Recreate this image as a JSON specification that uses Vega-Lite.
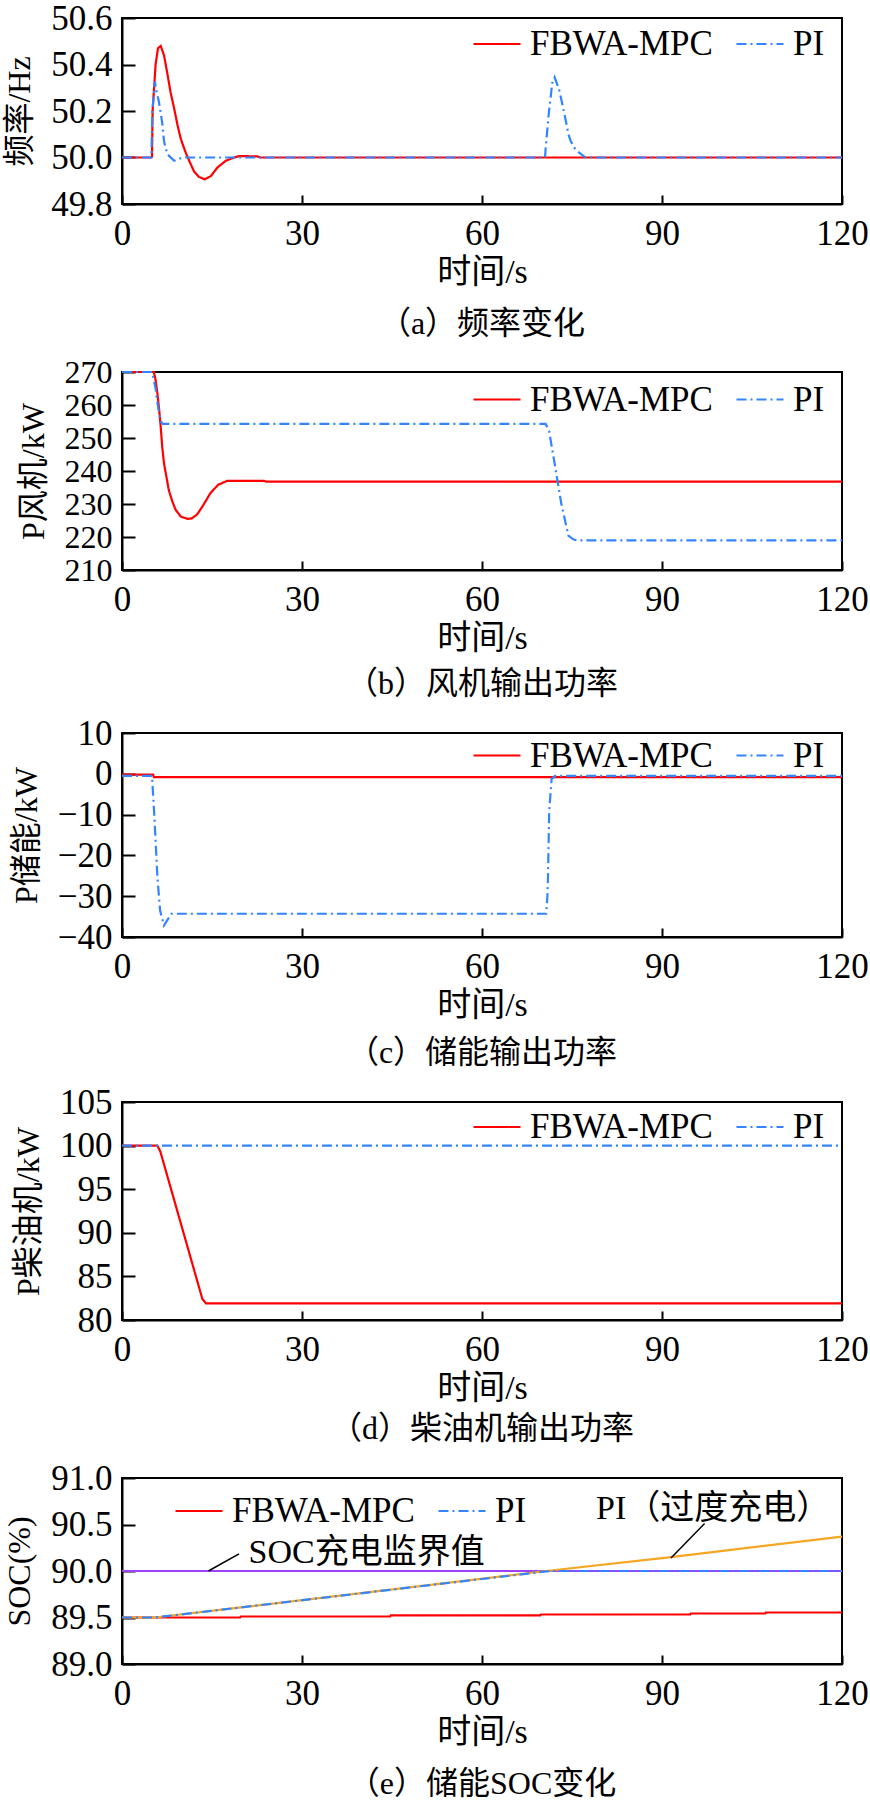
{
  "$schema": "https://vega.github.io/schema/vega-lite/v6.json",
  "padding": {"left": 2, "top": 0, "right": 0, "bottom": 0},
  "spacing": 14,
  "resolve": {
    "scale": {"color": "independent", "strokeDash": "independent"},
    "legend": {"color": "independent", "strokeDash": "independent"}
  },
  "config": {
    "font": "Liberation Serif, Noto Sans CJK SC",
    "view": {"stroke": "#000000", "strokeWidth": 2},
    "axis": {
      "grid": false,
      "domainColor": "#000000",
      "domainWidth": 2,
      "tickColor": "#000000",
      "tickWidth": 2,
      "labelFont": "Liberation Serif, Noto Sans CJK SC",
      "labelFontSize": 35,
      "labelColor": "#000000",
      "labelOverlap": false,
      "titleFont": "Liberation Serif, Noto Sans CJK SC",
      "titleFontSize": 32,
      "titleFontWeight": "normal",
      "titleColor": "#000000"
    },
    "axisX": {"tickSize": -9, "labelPadding": 21, "labelFlush": false, "titlePadding": 4, "titleFontSize": 34},
    "axisY": {"tickSize": -13, "labelPadding": 23, "titlePadding": 14},
    "legend": {
      "orient": "none",
      "direction": "horizontal",
      "symbolType": "stroke",
      "symbolSize": 2209,
      "symbolStrokeWidth": 2.5,
      "labelFont": "Liberation Serif, Noto Sans CJK SC",
      "labelFontSize": 35,
      "labelColor": "#000000",
      "labelOffset": 8,
      "labelLimit": 400,
      "columnPadding": 19,
      "padding": 0,
      "rowPadding": 0
    },
    "title": {
      "orient": "bottom",
      "offset": 14,
      "font": "Liberation Serif, Noto Sans CJK SC",
      "fontSize": 32,
      "fontWeight": "normal",
      "color": "#000000",
      "anchor": "middle"
    },
    "line": {"strokeWidth": 2.2}
  },
  "datasets": {
    "freq": [
      {"s": "FBWA-MPC", "t": 0, "v": 50.0},
      {"s": "FBWA-MPC", "t": 5.0, "v": 50.0},
      {"s": "FBWA-MPC", "t": 5.1, "v": 50.2},
      {"s": "FBWA-MPC", "t": 5.6, "v": 50.40},
      {"s": "FBWA-MPC", "t": 6.0, "v": 50.47},
      {"s": "FBWA-MPC", "t": 6.45, "v": 50.48},
      {"s": "FBWA-MPC", "t": 7.0, "v": 50.44},
      {"s": "FBWA-MPC", "t": 7.6, "v": 50.355},
      {"s": "FBWA-MPC", "t": 8.1, "v": 50.28},
      {"s": "FBWA-MPC", "t": 8.7, "v": 50.21},
      {"s": "FBWA-MPC", "t": 9.25, "v": 50.14},
      {"s": "FBWA-MPC", "t": 9.8, "v": 50.08},
      {"s": "FBWA-MPC", "t": 10.6, "v": 50.022},
      {"s": "FBWA-MPC", "t": 11.2, "v": 49.986},
      {"s": "FBWA-MPC", "t": 12.0, "v": 49.94},
      {"s": "FBWA-MPC", "t": 12.8, "v": 49.917},
      {"s": "FBWA-MPC", "t": 13.8, "v": 49.906},
      {"s": "FBWA-MPC", "t": 14.8, "v": 49.92},
      {"s": "FBWA-MPC", "t": 15.9, "v": 49.957},
      {"s": "FBWA-MPC", "t": 17.3, "v": 49.986},
      {"s": "FBWA-MPC", "t": 18.7, "v": 50.0},
      {"s": "FBWA-MPC", "t": 19.5, "v": 50.006},
      {"s": "FBWA-MPC", "t": 22.6, "v": 50.005},
      {"s": "FBWA-MPC", "t": 23.0, "v": 50.0},
      {"s": "FBWA-MPC", "t": 120, "v": 50.0},
      {"s": "PI", "t": 0, "v": 50.0},
      {"s": "PI", "t": 4.9, "v": 50.0},
      {"s": "PI", "t": 5.05, "v": 50.2},
      {"s": "PI", "t": 5.5, "v": 50.326},
      {"s": "PI", "t": 5.7, "v": 50.29},
      {"s": "PI", "t": 6.1, "v": 50.246},
      {"s": "PI", "t": 6.4, "v": 50.2},
      {"s": "PI", "t": 6.7, "v": 50.15},
      {"s": "PI", "t": 7.0, "v": 50.07},
      {"s": "PI", "t": 7.55, "v": 50.014},
      {"s": "PI", "t": 8.7, "v": 49.986},
      {"s": "PI", "t": 9.8, "v": 49.997},
      {"s": "PI", "t": 10.6, "v": 50.0},
      {"s": "PI", "t": 70.5, "v": 50.0},
      {"s": "PI", "t": 70.6, "v": 50.036},
      {"s": "PI", "t": 70.9, "v": 50.123},
      {"s": "PI", "t": 71.17, "v": 50.2},
      {"s": "PI", "t": 71.45, "v": 50.26},
      {"s": "PI", "t": 71.7, "v": 50.32},
      {"s": "PI", "t": 72.1, "v": 50.345},
      {"s": "PI", "t": 72.8, "v": 50.297},
      {"s": "PI", "t": 73.3, "v": 50.24},
      {"s": "PI", "t": 73.9, "v": 50.167},
      {"s": "PI", "t": 74.4, "v": 50.1},
      {"s": "PI", "t": 74.8, "v": 50.07},
      {"s": "PI", "t": 75.6, "v": 50.033},
      {"s": "PI", "t": 77.0, "v": 50.005},
      {"s": "PI", "t": 77.3, "v": 50.0},
      {"s": "PI", "t": 120, "v": 50.0}
    ],
    "wind": [
      {"s": "FBWA-MPC", "t": 0, "v": 270},
      {"s": "FBWA-MPC", "t": 5.3, "v": 270},
      {"s": "FBWA-MPC", "t": 5.6, "v": 267.6},
      {"s": "FBWA-MPC", "t": 5.9, "v": 263.5},
      {"s": "FBWA-MPC", "t": 6.2, "v": 258.5},
      {"s": "FBWA-MPC", "t": 6.45, "v": 253.4},
      {"s": "FBWA-MPC", "t": 6.7, "v": 247.4},
      {"s": "FBWA-MPC", "t": 7.0, "v": 242.3},
      {"s": "FBWA-MPC", "t": 7.3, "v": 239.3},
      {"s": "FBWA-MPC", "t": 7.8, "v": 234.2},
      {"s": "FBWA-MPC", "t": 8.4, "v": 230.7},
      {"s": "FBWA-MPC", "t": 8.95, "v": 228.2},
      {"s": "FBWA-MPC", "t": 9.8, "v": 226.2},
      {"s": "FBWA-MPC", "t": 10.9, "v": 225.5},
      {"s": "FBWA-MPC", "t": 11.6, "v": 225.6},
      {"s": "FBWA-MPC", "t": 12.5, "v": 226.8},
      {"s": "FBWA-MPC", "t": 13.5, "v": 229.5},
      {"s": "FBWA-MPC", "t": 14.7, "v": 233.2},
      {"s": "FBWA-MPC", "t": 16.0, "v": 235.8},
      {"s": "FBWA-MPC", "t": 17.5, "v": 237.0},
      {"s": "FBWA-MPC", "t": 23.7, "v": 237.0},
      {"s": "FBWA-MPC", "t": 24.0, "v": 236.8},
      {"s": "FBWA-MPC", "t": 120, "v": 236.8},
      {"s": "PI", "t": 0, "v": 270},
      {"s": "PI", "t": 5.0, "v": 270},
      {"s": "PI", "t": 5.3, "v": 267.6},
      {"s": "PI", "t": 5.6, "v": 265},
      {"s": "PI", "t": 5.9, "v": 260.6},
      {"s": "PI", "t": 6.2, "v": 257.5},
      {"s": "PI", "t": 6.45, "v": 255},
      {"s": "PI", "t": 6.8, "v": 254.3},
      {"s": "PI", "t": 70.6, "v": 254.3},
      {"s": "PI", "t": 71.2, "v": 252},
      {"s": "PI", "t": 72.1, "v": 242.3},
      {"s": "PI", "t": 73.2, "v": 230.3},
      {"s": "PI", "t": 74.4, "v": 220.4},
      {"s": "PI", "t": 75.2, "v": 219.3},
      {"s": "PI", "t": 75.8, "v": 219.0},
      {"s": "PI", "t": 120, "v": 219.0}
    ],
    "ess": [
      {"s": "FBWA-MPC", "t": 0, "v": -0.2},
      {"s": "FBWA-MPC", "t": 5.2, "v": -0.2},
      {"s": "FBWA-MPC", "t": 5.3, "v": -0.8},
      {"s": "FBWA-MPC", "t": 120, "v": -0.8},
      {"s": "PI", "t": 0, "v": -0.5},
      {"s": "PI", "t": 5.0, "v": -0.5},
      {"s": "PI", "t": 5.4, "v": -10.6},
      {"s": "PI", "t": 5.9, "v": -25.3},
      {"s": "PI", "t": 6.35, "v": -33.5},
      {"s": "PI", "t": 7.0, "v": -37.2},
      {"s": "PI", "t": 7.5, "v": -36.0},
      {"s": "PI", "t": 8.2, "v": -34.3},
      {"s": "PI", "t": 70.7, "v": -34.3},
      {"s": "PI", "t": 70.9, "v": -30},
      {"s": "PI", "t": 71.0, "v": -25.3},
      {"s": "PI", "t": 71.2, "v": -9.1},
      {"s": "PI", "t": 71.6, "v": -1.3},
      {"s": "PI", "t": 72.2, "v": -0.5},
      {"s": "PI", "t": 120, "v": -0.5}
    ],
    "diesel": [
      {"s": "FBWA-MPC", "t": 0, "v": 100},
      {"s": "FBWA-MPC", "t": 5.9, "v": 100},
      {"s": "FBWA-MPC", "t": 6.4, "v": 99.3},
      {"s": "FBWA-MPC", "t": 13.4, "v": 82.4},
      {"s": "FBWA-MPC", "t": 14.0, "v": 81.9},
      {"s": "FBWA-MPC", "t": 120, "v": 81.9},
      {"s": "PI", "t": 0, "v": 100},
      {"s": "PI", "t": 120, "v": 100}
    ],
    "soc": [
      {"s": "FBWA-MPC", "t": 0, "v": 89.5},
      {"s": "FBWA-MPC", "t": 19.7, "v": 89.5},
      {"s": "FBWA-MPC", "t": 19.8, "v": 89.511},
      {"s": "FBWA-MPC", "t": 44.7, "v": 89.511},
      {"s": "FBWA-MPC", "t": 44.8, "v": 89.522},
      {"s": "FBWA-MPC", "t": 69.7, "v": 89.522},
      {"s": "FBWA-MPC", "t": 69.8, "v": 89.532},
      {"s": "FBWA-MPC", "t": 94.7, "v": 89.532},
      {"s": "FBWA-MPC", "t": 94.8, "v": 89.543},
      {"s": "FBWA-MPC", "t": 107.2, "v": 89.543},
      {"s": "FBWA-MPC", "t": 107.3, "v": 89.554},
      {"s": "FBWA-MPC", "t": 120, "v": 89.554},
      {"s": "PI", "t": 0, "v": 89.5},
      {"s": "PI", "t": 5.5, "v": 89.5},
      {"s": "PI", "t": 16.6, "v": 89.584},
      {"s": "PI", "t": 71.3, "v": 90.0},
      {"s": "PI", "t": 120, "v": 90.0},
      {"s": "PI（过度充电）", "t": 0, "v": 89.5},
      {"s": "PI（过度充电）", "t": 5.5, "v": 89.5},
      {"s": "PI（过度充电）", "t": 16.6, "v": 89.584},
      {"s": "PI（过度充电）", "t": 70.7, "v": 90.0},
      {"s": "PI（过度充电）", "t": 91.5, "v": 90.15},
      {"s": "PI（过度充电）", "t": 120, "v": 90.37},
      {"s": "SOC充电监界值", "t": 0, "v": 90.0},
      {"s": "SOC充电监界值", "t": 120, "v": 90.0}
    ],
    "socNotes": [
      {"label": "SOC充电监界值", "t": 21.1, "v": 90.19, "t0": 19.5, "v0": 90.185, "t1": 14.4, "v1": 90.0},
      {"label": "PI（过度充电）", "t": 79.0, "v": 90.67, "t0": 97.1, "v0": 90.51, "t1": 91.5, "v1": 90.14}
    ]
  },
  "vconcat": [
    {
      "width": 720,
      "height": 186,
      "title": {"text": "（a）频率变化", "offset": 20},
      "data": {"name": "freq"},
      "encoding": {
        "x": {"field": "t", "type": "quantitative", "scale": {"domain": [0, 120], "nice": false}, "axis": {"title": "时间/s", "values": [0, 30, 60, 90, 120]}},
        "y": {"field": "v", "type": "quantitative", "scale": {"domain": [49.8, 50.6], "nice": false, "zero": false}, "axis": {"title": "频率/Hz", "values": [49.8, 50.0, 50.2, 50.4, 50.6], "format": ".1f"}},
        "color": {"field": "s", "type": "nominal", "scale": {"domain": ["FBWA-MPC", "PI"], "range": ["#ff0000", "#3385ff"]}, "legend": {"title": null, "legendX": 350, "legendY": 1}},
        "strokeDash": {"field": "s", "type": "nominal", "scale": {"domain": ["FBWA-MPC", "PI"], "range": [[1, 0], [10, 4, 2, 4]]}, "legend": {"title": null, "legendX": 350, "legendY": 1}}
      },
      "layer": [
        {"transform": [{"filter": "datum.s === 'FBWA-MPC'"}], "mark": "line"},
        {"transform": [{"filter": "datum.s === 'PI'"}], "mark": "line"}
      ]
    },
    {
      "width": 720,
      "height": 198,
      "title": {"text": "（b）风机输出功率", "offset": 13.5},
      "data": {"name": "wind"},
      "encoding": {
        "x": {"field": "t", "type": "quantitative", "scale": {"domain": [0, 120], "nice": false}, "axis": {"title": "时间/s", "values": [0, 30, 60, 90, 120]}},
        "y": {"field": "v", "type": "quantitative", "scale": {"domain": [210, 270], "nice": false, "zero": false}, "axis": {"title": "P风机/kW", "values": [210, 220, 230, 240, 250, 260, 270], "format": "d", "labelFontSize": 32}},
        "color": {"field": "s", "type": "nominal", "scale": {"domain": ["FBWA-MPC", "PI"], "range": ["#ff0000", "#3385ff"]}, "legend": {"title": null, "legendX": 350, "legendY": 2.5}},
        "strokeDash": {"field": "s", "type": "nominal", "scale": {"domain": ["FBWA-MPC", "PI"], "range": [[1, 0], [10, 4, 2, 4]]}, "legend": {"title": null, "legendX": 350, "legendY": 2.5}}
      },
      "layer": [
        {"transform": [{"filter": "datum.s === 'FBWA-MPC'"}], "mark": "line"},
        {"transform": [{"filter": "datum.s === 'PI'"}], "mark": "line"}
      ]
    },
    {
      "width": 720,
      "height": 204,
      "title": {"text": "（c）储能输出功率", "offset": 15.5},
      "data": {"name": "ess"},
      "encoding": {
        "x": {"field": "t", "type": "quantitative", "scale": {"domain": [0, 120], "nice": false}, "axis": {"title": "时间/s", "values": [0, 30, 60, 90, 120]}},
        "y": {"field": "v", "type": "quantitative", "scale": {"domain": [-40, 10], "nice": false, "zero": false}, "axis": {"title": "P储能/kW", "values": [-40, -30, -20, -10, 0, 10], "format": "d"}},
        "color": {"field": "s", "type": "nominal", "scale": {"domain": ["FBWA-MPC", "PI"], "range": ["#ff0000", "#3385ff"]}, "legend": {"title": null, "legendX": 350, "legendY": -2.5}},
        "strokeDash": {"field": "s", "type": "nominal", "scale": {"domain": ["FBWA-MPC", "PI"], "range": [[1, 0], [10, 4, 2, 4]]}, "legend": {"title": null, "legendX": 350, "legendY": -2.5}}
      },
      "layer": [
        {"transform": [{"filter": "datum.s === 'FBWA-MPC'"}], "mark": "line"},
        {"transform": [{"filter": "datum.s === 'PI'"}], "mark": "line"}
      ]
    },
    {
      "width": 720,
      "height": 218,
      "title": {"text": "（d）柴油机输出功率", "offset": 9},
      "data": {"name": "diesel"},
      "encoding": {
        "x": {"field": "t", "type": "quantitative", "scale": {"domain": [0, 120], "nice": false}, "axis": {"title": "时间/s", "values": [0, 30, 60, 90, 120]}},
        "y": {"field": "v", "type": "quantitative", "scale": {"domain": [80, 105], "nice": false, "zero": false}, "axis": {"title": "P柴油机/kW", "values": [80, 85, 90, 95, 100, 105], "format": "d"}},
        "color": {"field": "s", "type": "nominal", "scale": {"domain": ["FBWA-MPC", "PI"], "range": ["#ff0000", "#3385ff"]}, "legend": {"title": null, "legendX": 350, "legendY": 0}},
        "strokeDash": {"field": "s", "type": "nominal", "scale": {"domain": ["FBWA-MPC", "PI"], "range": [[1, 0], [10, 4, 2, 4]]}, "legend": {"title": null, "legendX": 350, "legendY": 0}}
      },
      "layer": [
        {"transform": [{"filter": "datum.s === 'FBWA-MPC'"}], "mark": "line"},
        {"transform": [{"filter": "datum.s === 'PI'"}], "mark": "line"}
      ]
    },
    {
      "width": 720,
      "height": 186,
      "title": {"text": "（e）储能SOC变化", "offset": 20},
      "layer": [
        {
          "data": {"name": "soc"},
          "transform": [{"filter": "datum.s === 'FBWA-MPC'"}],
          "mark": "line",
          "encoding": {
            "x": {"field": "t", "type": "quantitative", "scale": {"domain": [0, 120], "nice": false}, "axis": {"title": "时间/s", "values": [0, 30, 60, 90, 120]}},
            "y": {"field": "v", "type": "quantitative", "scale": {"domain": [89, 91], "nice": false, "zero": false}, "axis": {"title": "SOC(%)", "values": [89, 89.5, 90, 90.5, 91], "format": ".1f"}},
            "color": {"field": "s", "type": "nominal", "scale": {"domain": ["FBWA-MPC", "PI"], "range": ["#ff0000", "#3385ff"]}, "legend": {"title": null, "legendX": 52, "legendY": 8}},
            "strokeDash": {"field": "s", "type": "nominal", "scale": {"domain": ["FBWA-MPC", "PI"], "range": [[1, 0], [10, 4, 2, 4]]}, "legend": {"title": null, "legendX": 52, "legendY": 8}}
          }
        },
        {
          "data": {"name": "soc"},
          "transform": [{"filter": "datum.s === 'SOC充电监界值'"}],
          "mark": {"type": "line", "color": "#a040ff"},
          "encoding": {
            "x": {"field": "t", "type": "quantitative"},
            "y": {"field": "v", "type": "quantitative"}
          }
        },
        {
          "data": {"name": "soc"},
          "transform": [{"filter": "datum.s === 'PI（过度充电）'"}],
          "mark": {"type": "line", "color": "#f5a623"},
          "encoding": {
            "x": {"field": "t", "type": "quantitative"},
            "y": {"field": "v", "type": "quantitative"}
          }
        },
        {
          "data": {"name": "soc"},
          "transform": [{"filter": "datum.s === 'PI'"}],
          "mark": "line",
          "encoding": {
            "x": {"field": "t", "type": "quantitative"},
            "y": {"field": "v", "type": "quantitative"},
            "color": {"field": "s", "type": "nominal"},
            "strokeDash": {"field": "s", "type": "nominal"}
          }
        },
        {
          "data": {"name": "socNotes"},
          "mark": {"type": "rule", "color": "#000000", "strokeWidth": 1.5},
          "encoding": {
            "x": {"field": "t0", "type": "quantitative"},
            "y": {"field": "v0", "type": "quantitative"},
            "x2": {"field": "t1"},
            "y2": {"field": "v1"}
          }
        },
        {
          "data": {"name": "socNotes"},
          "mark": {"type": "text", "align": "left", "baseline": "middle", "fontSize": 34, "color": "#000000", "font": "Liberation Serif, Noto Sans CJK SC"},
          "encoding": {
            "x": {"field": "t", "type": "quantitative"},
            "y": {"field": "v", "type": "quantitative"},
            "text": {"field": "label"}
          }
        }
      ]
    }
  ]
}
